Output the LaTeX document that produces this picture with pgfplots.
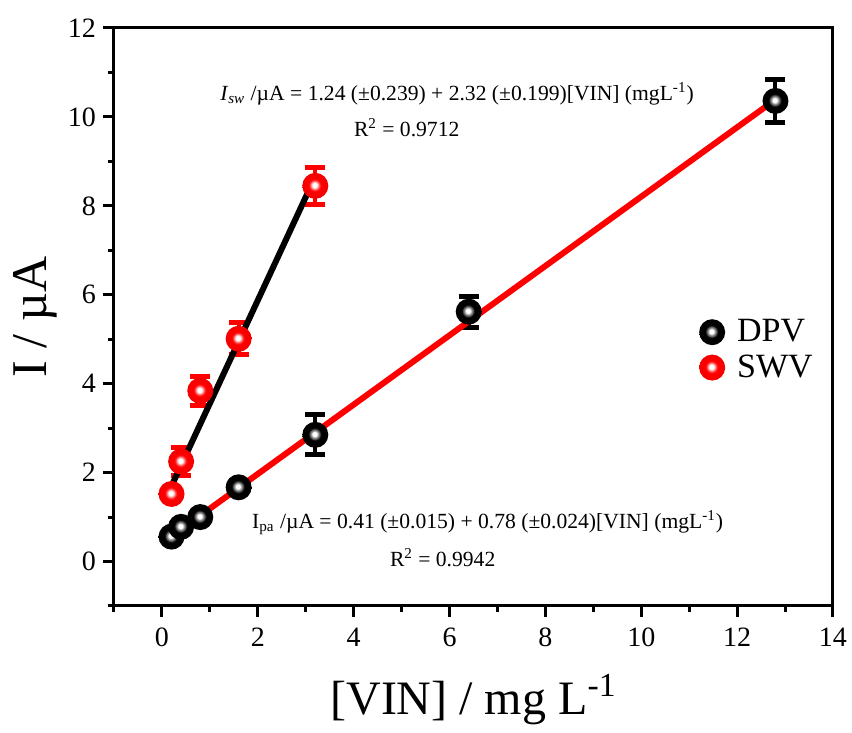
\documentclass[border=0pt]{standalone}
\usepackage{pgfplots}
\pgfplotsset{compat=1.18}
\usepackage{fontspec}
\setmainfont{Liberation Serif}
\pgfdeclareradialshading{redballshade}{\pgfpoint{-1.5bp}{1.5bp}}{color(0bp)=(white); color(4bp)=(white); color(7bp)=(red!40!white); color(10bp)=(red!85!white); color(12bp)=(red); color(25bp)=(red!95!black); color(50bp)=(red!95!black)}
\pgfdeclareradialshading{blackballshade}{\pgfpoint{-1.5bp}{1.5bp}}{color(0bp)=(white); color(4bp)=(white); color(7bp)=(gray!85); color(10bp)=(gray!60!black); color(12bp)=(black); color(50bp)=(black)}
\pgfdeclareplotmark{redball}{\pgfpathcircle{\pgfpointorigin}{\pgfplotmarksize}\pgfshadepath{redballshade}{0}\pgfusepath{discard}}
\pgfdeclareplotmark{blackball}{\pgfpathcircle{\pgfpointorigin}{\pgfplotmarksize}\pgfshadepath{blackballshade}{0}\pgfusepath{discard}}
\begin{document}
\begin{tikzpicture}
\useasboundingbox (-57pt,-63.5pt) rectangle (369pt,303pt);
\begin{axis}[
  scale only axis, width=359.5pt, height=289pt,
  xmin=-1, xmax=14, ymin=-1, ymax=12,
  xtick={0,2,...,14}, ytick={0,2,...,12},
  minor xtick={-1,1,3,...,13}, minor ytick={-1,1,3,...,11},
  tick pos=left, tick align=outside,
  major tick length=5.5pt, minor tick length=3pt,
  every tick/.style={line width=1.5pt, black},
  axis line style={line width=1.5pt},
  /pgf/number format/assume math mode=true,
  ticklabel style={font=\fontsize{14}{16}\selectfont},
  xticklabel style={yshift=-2pt},
  xlabel={[VIN] / mg L\textsuperscript{-1}},
  ylabel={I / µA},
  xlabel style={font=\fontsize{24}{26}\selectfont, at={(0.5,-0.188)}, anchor=base},
  ylabel style={font=\fontsize{25}{27}\selectfont, at={(-0.11,0.5)}, anchor=center},
  clip=false,
  legend style={draw=none, fill=none, at={(0.805,0.443)}, anchor=west,
    font=\fontsize{17}{19}\selectfont, row sep=1pt,
    nodes={inner xsep=6pt}},
  /tikz/every even column/.append style={column sep=6pt},
  legend cell align=left,
]
\addlegendimage{only marks, mark=blackball, mark size=6.5pt}
\addlegendentry{DPV}
\addlegendimage{only marks, mark=redball, mark size=6.5pt}
\addlegendentry{SWV}

% DPV error bars
\addplot[forget plot, only marks, mark=none, black,
  error bars/.cd, y dir=both, y explicit,
  error bar style={line width=2pt, black, solid},
  error mark options={rotate=90, mark size=5pt, line width=2.5pt, black}]
  table[x=x, y=y, y error=e] {
  x y e
  0.2 0.56 0.08
  0.4 0.78 0.10
  0.8 1.00 0.12
  1.6 1.67 0.12
  3.2 2.85 0.45
  6.4 5.62 0.35
  12.8 10.36 0.48
};
% SWV error bars
\addplot[forget plot, only marks, mark=none, red,
  error bars/.cd, y dir=both, y explicit,
  error bar style={line width=2pt, red, solid},
  error mark options={rotate=90, mark size=5pt, line width=2.5pt, red}]
  table[x=x, y=y, y error=e] {
  x y e
  0.2 1.52 0.10
  0.4 2.25 0.32
  0.8 3.84 0.32
  1.6 5.01 0.36
  3.2 8.45 0.42
};
% DPV points
\addplot[forget plot, only marks, mark=blackball, mark size=6.5pt] table {
  0.2 0.56
  0.4 0.78
  0.8 1.00
  1.6 1.67
  3.2 2.85
  6.4 5.62
  12.8 10.36
};
% SWV points
\addplot[forget plot, only marks, mark=redball, mark size=6.5pt] table {
  0.2 1.52
  0.4 2.25
  0.8 3.84
  1.6 5.01
  3.2 8.45
};
% fit lines
\addplot[forget plot, red, line width=3pt] coordinates {(0.2,0.566) (12.8,10.39)};
\addplot[forget plot, black, line width=3pt] coordinates {(0.2,1.70) (3.2,8.66)};

\node[anchor=west, font=\fontsize{10.8}{13}\selectfont, inner sep=0pt] at (axis cs:1.21,10.52)
  {\textit{I}\textsubscript{\textit{sw}} /µA = 1.24 (±0.239) + 2.32 (±0.199)[VIN] (mgL\textsuperscript{-1})};
\node[anchor=west, font=\fontsize{10.8}{13}\selectfont, inner sep=0pt] at (axis cs:4.0,9.75)
  {R\textsuperscript{2} = 0.9712};
\node[anchor=west, font=\fontsize{10.8}{13}\selectfont, inner sep=0pt] at (axis cs:1.875,0.88)
  {I\textsubscript{pa} /µA = 0.41 (±0.015) + 0.78 (±0.024)[VIN] (mgL\textsuperscript{-1})};
\node[anchor=west, font=\fontsize{10.8}{13}\selectfont, inner sep=0pt] at (axis cs:4.75,0.09)
  {R\textsuperscript{2} = 0.9942};
\end{axis}
\end{tikzpicture}
\end{document}
